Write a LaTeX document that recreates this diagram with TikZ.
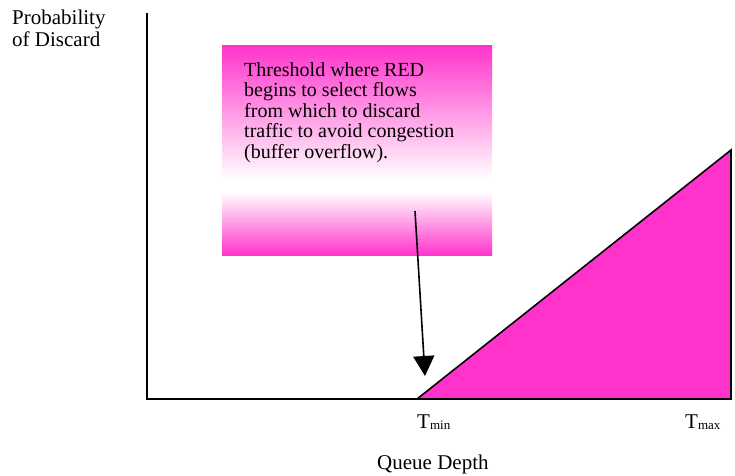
\documentclass[tikz,border=0pt]{standalone}
\usepackage{fontspec}
\setmainfont{Liberation Serif}
\usetikzlibrary{arrows.meta}

\definecolor{redpink}{RGB}{255,51,204}

% Callout fill: magenta at top and bottom, white band low in the box
\pgfdeclareverticalshading{calloutfade}{100bp}{%
  color(0bp)=(redpink); color(25bp)=(redpink);
  color(40bp)=(white); color(43bp)=(white);
  color(75bp)=(redpink); color(100bp)=(redpink)}

\begin{document}
\begin{tikzpicture}[x=1pt, y=1pt,
  lbl/.style={inner sep=0pt, anchor=base west, font=\fontsize{21}{22}\selectfont},
  axisline/.style={line width=2pt},
  pointer/.style={line width=1.6pt, -{Triangle[length=20pt, width=21pt]}},
  ramp/.style={fill=redpink, draw=black, line width=1.6pt, line join=miter}]

\useasboundingbox (0,0) rectangle (735,475);

% axes and ramp corners
\coordinate (ytop)    at (147,462);
\coordinate (origin)  at (147,76);
\coordinate (tmin)    at (417,76);
\coordinate (tmaxtop) at (731,325);
\coordinate (tmax)    at (731,76);

\draw[axisline] (ytop) -- (origin) -- (tmin);
\filldraw[ramp] (tmin) -- (tmaxtop) -- (tmax) -- cycle;

% callout box and its text
\node (callout) [shading=calloutfade, anchor=north west, inner sep=0pt,
  minimum width=270pt, minimum height=210pt] at (222,430) {};
\node (note) [inner sep=0pt, anchor=north west, align=left,
  font=\fontsize{20}{20.5}\selectfont]
  at ([xshift=22pt, yshift=-17pt]callout.north west)
  {Threshold where RED\\begins to select flows\\from which to discard\\traffic to avoid congestion\\(buffer overflow).};

% pointer to the lower threshold
\coordinate (tail) at (415,264);
\coordinate (tip)  at (425,99);
\draw[pointer] (tail) -- (tip);

% labels
\node (ylabel) [inner sep=0pt, anchor=north west, align=left,
  font=\fontsize{21}{22}\selectfont] at (12,465) {Probability\\of Discard};
\node (tminlabel) [lbl] at (417,47) {T\raisebox{-1.5pt}{\fontsize{13}{13}\selectfont min}};
\node (tmaxlabel) [lbl] at (685,47) {T\raisebox{-1.5pt}{\fontsize{13}{13}\selectfont max}};
\node (xlabel) [lbl] at (377,6) {Queue Depth};

\end{tikzpicture}
\end{document}
